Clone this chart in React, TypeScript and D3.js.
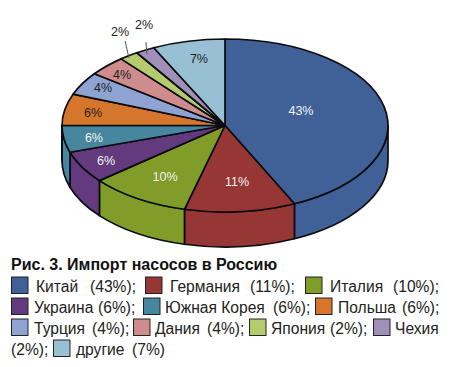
import React from "react";
import * as d3 from "d3";

const title = "Рис. 3. Импорт насосов в Россию";
const countries = ["Китай", "Германия", "Италия", "Украина", "Южная Корея", "Польша", "Турция", "Дания", "Япония", "Чехия", "другие"];
const values = [43, 11, 10, 6, 6, 6, 4, 4, 2, 2, 7];
// Slice sizes as actually drawn in the picture (differ slightly from the stated labels)
const drawnShares = [43, 11, 10, 6, 5, 5.9, 4.3, 3.8, 1.9, 1.9, 7.2];
const colors = ["#3f6197", "#973735", "#809d2a", "#623a7d", "#46879f", "#d6762c", "#8fa3d3", "#cf8c8c", "#b5cc6e", "#a08fb8", "#98c0d5"];
const labelColors = ["#f2f2f2", "#f2f2f2", "#f2f2f2", "#f2f2f2", "#f2f2f2", "#222", "#222", "#222", "#222", "#222", "#222"];
// label anchors as fractions of the ellipse radii
const labelU = [0.466, 0.074, -0.368, -0.73, -0.804, -0.81, -0.748, -0.632, -0.644, -0.497, -0.16];
const labelV = [-0.179, 0.653, 0.584, 0.399, 0.133, -0.145, -0.434, -0.595, -1.081, -1.162, -0.78];
const leaders = [
  [-0.613, -0.977, -0.589, -0.78],
  [-0.485, -0.965, -0.479, -0.827],
];

const legendRow = [0, 0, 0, 1, 1, 1, 2, 2, 2, 2, 3];
const swatchX = [11, 145, 305, 11, 143, 315, 11, 133, 249, 373, 53];
const nameX = [36, 170, 330, 34, 165, 338, 34, 155, 271, 395, 76];
const valueX = [90, 250, 393, 98, 273, 402, 92, 207, 330, 11, 132];
const valueRow = [0, 0, 0, 1, 1, 1, 2, 2, 2, 3, 3];

const cx = 225, cy = 125.5, rx = 163, ry = 86.5, depth = 35;
const rowY = d3.scaleLinear().domain([0, 3]).range([292, 355]);
const uScale = d3.scaleLinear().domain([-1, 1]).range([cx - rx, cx + rx]);
const vScale = d3.scaleLinear().domain([-1, 1]).range([cy - ry, cy + ry]);
const FONT = "'Liberation Sans', Arial, sans-serif";

const pt = (a: number): [number, number] => [cx + rx * Math.sin(a), cy - ry * Math.cos(a)];

const arcs = d3.pie<number>().sort(null)(drawnShares);

function topPath(a0: number, a1: number) {
  const [x0, y0] = pt(a0);
  const [x1, y1] = pt(a1);
  const large = a1 - a0 > Math.PI ? 1 : 0;
  return `M${cx},${cy}L${x0},${y0}A${rx},${ry} 0 ${large} 1 ${x1},${y1}Z`;
}

function wallPath(a0: number, a1: number) {
  const s = Math.max(a0, Math.PI / 2);
  const e = Math.min(a1, (3 * Math.PI) / 2);
  if (e <= s) return null;
  const [x0, y0] = pt(s);
  const [x1, y1] = pt(e);
  return `M${x0},${y0}A${rx},${ry} 0 0 1 ${x1},${y1}L${x1},${y1 + depth}A${rx},${ry} 0 0 0 ${x0},${y0 + depth}Z`;
}

export default function App() {
  return (
    <svg width={450} height={367} style={{ position: "absolute", left: 0, top: 0, background: "#fff" }} fontFamily={FONT}>
      <g stroke="#0c0c10" strokeWidth={1.7} strokeLinejoin="round">
        {arcs.map((d, i) => {
          const w = wallPath(d.startAngle, d.endAngle);
          return w ? <path key={i} d={w} fill={colors[i]} /> : null;
        })}
        {arcs.map((d, i) => (
          <path key={i} d={topPath(d.startAngle, d.endAngle)} fill={colors[i]} />
        ))}
      </g>
      {leaders.map((l, i) => (
        <line key={i} x1={uScale(l[0])} y1={vScale(l[1])} x2={uScale(l[2])} y2={vScale(l[3])} stroke="#555" strokeWidth={1} />
      ))}
      {values.map((v, i) => (
        <text key={i} x={uScale(labelU[i])} y={vScale(labelV[i])} dy="0.36em" textAnchor="middle" fontSize={12.5} fill={labelColors[i]}>
          {v}%
        </text>
      ))}
      <text x={11} y={270} fontSize={16} fontWeight="bold" fill="#111">{title}</text>
      {countries.map((c, i) => {
        const sep = i === countries.length - 1 ? "" : ";";
        return (
          <g key={c} fontSize={15.6} fill="#222">
            <rect x={swatchX[i] + 0.5} y={rowY(legendRow[i]) - 15} width={16.5} height={16.5} fill={colors[i]} stroke="#222" strokeWidth={1} />
            <text x={nameX[i]} y={rowY(legendRow[i])}>{c}</text>
            <text x={valueX[i]} y={rowY(valueRow[i])}>({values[i]}%){sep}</text>
          </g>
        );
      })}
    </svg>
  );
}
